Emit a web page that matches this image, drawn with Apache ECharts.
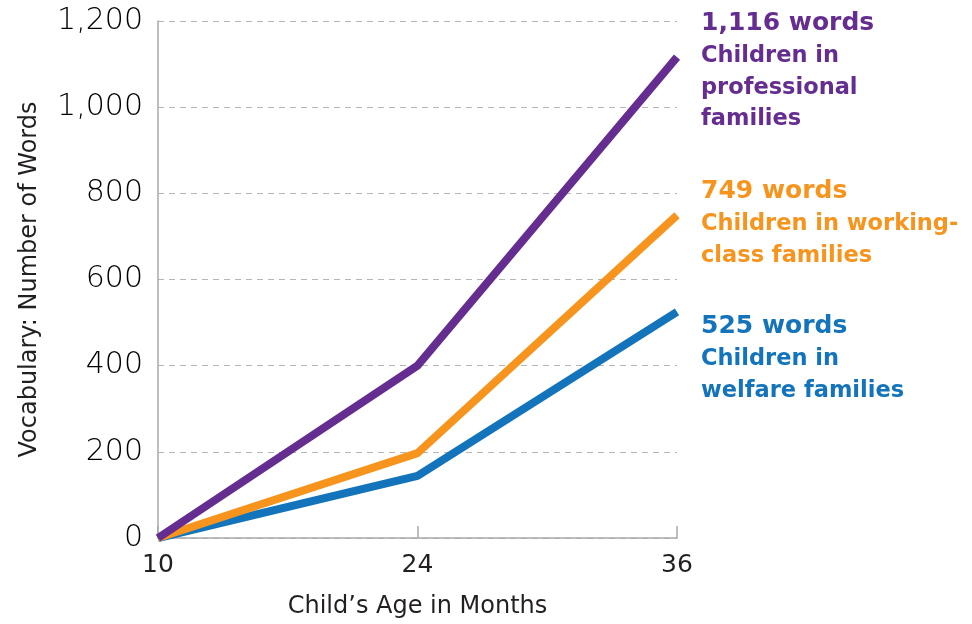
<!DOCTYPE html>
<html>
<head>
<meta charset="utf-8">
<script src="https://cdn.jsdelivr.net/npm/echarts@6/dist/echarts.min.js"></script>
<style>html,body{margin:0;padding:0;background:#fff}#c{width:972px;height:624px}</style>
</head>
<body>
<div id="c"></div>
<script>
const ages = ['10', '24', '36'];
const professional = [0, 400, 1116];
const workingClass = [0, 197, 749];
const welfare = [0, 144, 525];
const yTicks = [0, 200, 400, 600, 800, 1000, 1200];
const groupNames = [
  ['Children in', 'professional', 'families'],
  ['Children in working-', 'class families'],
  ['Children in', 'welfare families']
];
const colors = ['#662D91', '#F7941E', '#1374BB'];

const fmt = v => v.toLocaleString('en-US');
const chart = echarts.init(document.getElementById('c'));
const FONT = '"DejaVu Sans", sans-serif';

function block(top, value, lines, color) {
  const els = [{
    type: 'text', left: 701, top: top,
    style: { text: fmt(value) + ' words', fill: color, font: 'bold 25px ' + FONT }
  }];
  lines.forEach((t, i) => els.push({
    type: 'text', left: 701, top: top + 34 + i * 31.5,
    style: { text: t, fill: color, font: 'bold 22.5px ' + FONT }
  }));
  return els;
}

chart.setOption({
  animation: false,
  grid: { left: 158, right: 295, top: 21, bottom: 85 },
  xAxis: {
    type: 'category', data: ages, boundaryGap: false,
    axisLine: { lineStyle: { color: '#a7a9ac', width: 1.5 } },
    axisTick: { show: true, inside: true, length: 12, lineStyle: { color: '#a7a9ac', width: 1.5 } },
    axisLabel: { color: '#231f20', fontSize: 25, fontFamily: FONT, margin: 15 },
    name: 'Child\u2019s Age in Months', nameLocation: 'middle', nameGap: 57,
    nameTextStyle: { color: '#231f20', fontSize: 24, fontFamily: FONT }
  },
  yAxis: {
    type: 'value', min: 0, max: 1200, interval: 200,
    axisLine: { show: true, lineStyle: { color: '#a7a9ac', width: 1.5 } },
    axisTick: { show: false },
    splitLine: { lineStyle: { color: '#b5b5b5', type: [6, 5], width: 1 } },
    axisLabel: { color: '#000', fontSize: 30, fontFamily: FONT, fontWeight: 300, margin: 15,
      formatter: v => fmt(v) },
    name: 'Vocabulary: Number of Words', nameLocation: 'middle', nameGap: 116,
    nameTextStyle: { color: '#231f20', fontSize: 24, fontFamily: FONT }
  },
  series: [
    { type: 'line', data: welfare, symbol: 'none', lineStyle: { color: colors[2], width: 8 }, z: 1 },
    { type: 'line', data: workingClass, symbol: 'none', lineStyle: { color: colors[1], width: 8 }, z: 2 },
    { type: 'line', data: professional, symbol: 'none', lineStyle: { color: colors[0], width: 8 }, z: 3 }
  ],
  graphic: [].concat(
    block(11, professional[2], groupNames[0], colors[0]),
    block(179, workingClass[2], groupNames[1], colors[1]),
    block(314, welfare[2], groupNames[2], colors[2])
  )
});
</script>
</body>
</html>
